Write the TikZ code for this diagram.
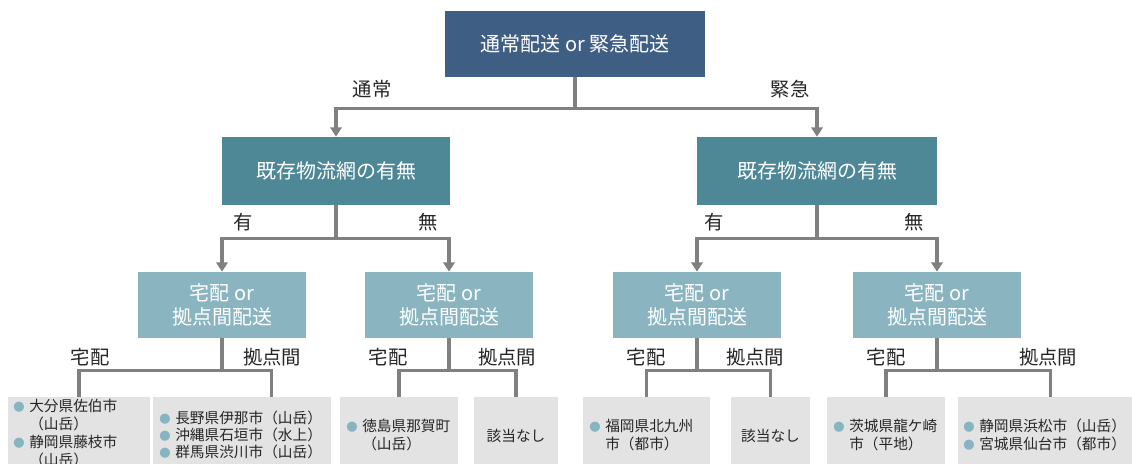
\documentclass[tikz,border=0pt]{standalone}
\usepackage{fontspec}
\setmainfont{Noto Sans CJK JP}
\usetikzlibrary{arrows.meta,calc}
\definecolor{topc}{HTML}{3F5E84}
\definecolor{midc}{HTML}{4E8796}
\definecolor{lowc}{HTML}{8AB5C0}
\definecolor{leafc}{HTML}{E3E3E3}
\definecolor{linec}{HTML}{808080}
\definecolor{bulc}{HTML}{86B5C1}
\definecolor{txtc}{HTML}{262626}
\newcommand\pxl[1]{#1*0.75pt}
\newcommand\bul{\makebox[12pt][l]{\textcolor{bulc}{\fontsize{8.5}{8}\selectfont ●}}}
\newcommand\ind{\hspace*{12pt}}
\begin{document}
\begin{tikzpicture}[x=0.75pt,y=-0.75pt,
  boxbase/.style={inner sep=0pt, text=white, align=center, font=\fontsize{15}{18}\selectfont},
  topbox/.style={boxbase, fill=topc, minimum width=\pxl{260}, minimum height=\pxl{66}},
  midbox/.style={boxbase, fill=midc, minimum height=\pxl{68}},
  lowbox/.style={boxbase, fill=lowc, minimum width=\pxl{168}, minimum height=\pxl{66}},
  leafbox/.style={fill=leafc, inner sep=0pt, anchor=north, minimum height=\pxl{80}},
  leaftext/.style={inner sep=0pt, align=left, text=txtc, font=\fontsize{11}{13}\selectfont},
  lbl/.style={inner sep=0pt, text=txtc, font=\fontsize{14.5}{16}\selectfont},
  conn/.style={draw=linec, line width=2.3pt},
  arr/.style={conn, -{Triangle[length=7pt,width=8.5pt]}}
]
\useasboundingbox (0,0) rectangle (1132,464);
\clip (0,0) rectangle (1132,464);

% boxes
\node[topbox] (top) at (575,44) {通常配送 or 緊急配送};
\node[midbox, minimum width=\pxl{228}] (m1) at (336,171) {既存物流網の有無};
\node[midbox, minimum width=\pxl{240}] (m2) at (817,171) {既存物流網の有無};
\node[lowbox] (b1) at (222,305) {宅配 or\\拠点間配送};
\node[lowbox] (b2) at (449,305) {宅配 or\\拠点間配送};
\node[lowbox] (b3) at (697,305) {宅配 or\\拠点間配送};
\node[lowbox] (b4) at (937,305) {宅配 or\\拠点間配送};

% leaf backgrounds
\node[leafbox, minimum width=\pxl{142}] (l1) at (79,397) {};
\node[leafbox, minimum width=\pxl{178}] (l2) at (242,397) {};
\node[leafbox, minimum width=\pxl{118}] (l3) at (399,397) {};
\node[leafbox, minimum width=\pxl{84}] (l4) at (516,397) {};
\node[leafbox, minimum width=\pxl{127}] (l5) at (646.5,397) {};
\node[leafbox, minimum width=\pxl{79}] (l6) at (770.5,397) {};
\node[leafbox, minimum width=\pxl{118}] (l7) at (886,397) {};
\node[leafbox, minimum width=\pxl{180}] (l8) at (1048,397) {};

% leaf texts
\node[leaftext, anchor=north west, font=\fontsize{11}{13.5}\selectfont] (t1) at (13,399) {\bul 大分県佐伯市\\\ind （山岳）\\\bul 静岡県藤枝市\\\ind （山岳）};
\node[leaftext, anchor=west] (t2) at (159,435) {\bul 長野県伊那市（山岳）\\\bul 沖縄県石垣市（水上）\\\bul 群馬県渋川市（山岳）};
\node[leaftext, anchor=west] (t3) at (346,435) {\bul 徳島県那賀町\\\ind （山岳）};
\node[leaftext] (t4) at (516,436) {該当なし};
\node[leaftext, anchor=west] (t5) at (589,435) {\bul 福岡県北九州\\\ind 市（都市）};
\node[leaftext] (t6) at (770.5,436) {該当なし};
\node[leaftext, anchor=west] (t7) at (833,435) {\bul 茨城県龍ケ崎\\\ind 市（平地）};
\node[leaftext, anchor=west] (t8) at (963,435) {\bul 静岡県浜松市（山岳）\\\bul 宮城県仙台市（都市）};

% connectors
\draw[arr] (top.south) -- ++(0,31) -| (m1.north);
\draw[arr] (top.south) -- ++(0,31) -| (m2.north);
\draw[arr] (m1.south) -- ++(0,33) -| (b1.north);
\draw[arr] (m1.south) -- ++(0,33) -| (b2.north);
\draw[arr] (m2.south) -- ++(0,33) -| (b3.north);
\draw[arr] (m2.south) -- ++(0,33) -| (b4.north);
\draw[conn] (b1.south) -- ++(0,32) -| (l1.north);
\draw[conn] (b1.south) -- ++(0,32) -| ($(l2.north west)+(119,0)$);
\draw[conn] (b2.south) -- ++(0,32) -| (l3.north);
\draw[conn] (b2.south) -- ++(0,32) -| (l4.north);
\draw[conn] (b3.south) -- ++(0,32) -| (l5.north);
\draw[conn] (b3.south) -- ++(0,32) -| (l6.north);
\draw[conn] (b4.south) -- ++(0,32) -| (l7.north);
\draw[conn] (b4.south) -- ++(0,32) -| ($(l8.north west)+(93,0)$);

% labels
\node[lbl] (n1) at (372,89) {通常};
\node[lbl] (n2) at (790,89) {緊急};
\node[lbl] (y1) at (243,222) {有};
\node[lbl] (x1) at (428,222) {無};
\node[lbl] (y2) at (714,222) {有};
\node[lbl] (x2) at (914,222) {無};
\node[lbl] (a1) at (90,357) {宅配};
\node[lbl] (c1) at (272,357) {拠点間};
\node[lbl] (a2) at (388,357) {宅配};
\node[lbl] (c2) at (507,357) {拠点間};
\node[lbl] (a3) at (646,357) {宅配};
\node[lbl] (c3) at (755,357) {拠点間};
\node[lbl] (a4) at (886,357) {宅配};
\node[lbl] (c4) at (1048,357) {拠点間};
\end{tikzpicture}
\end{document}
